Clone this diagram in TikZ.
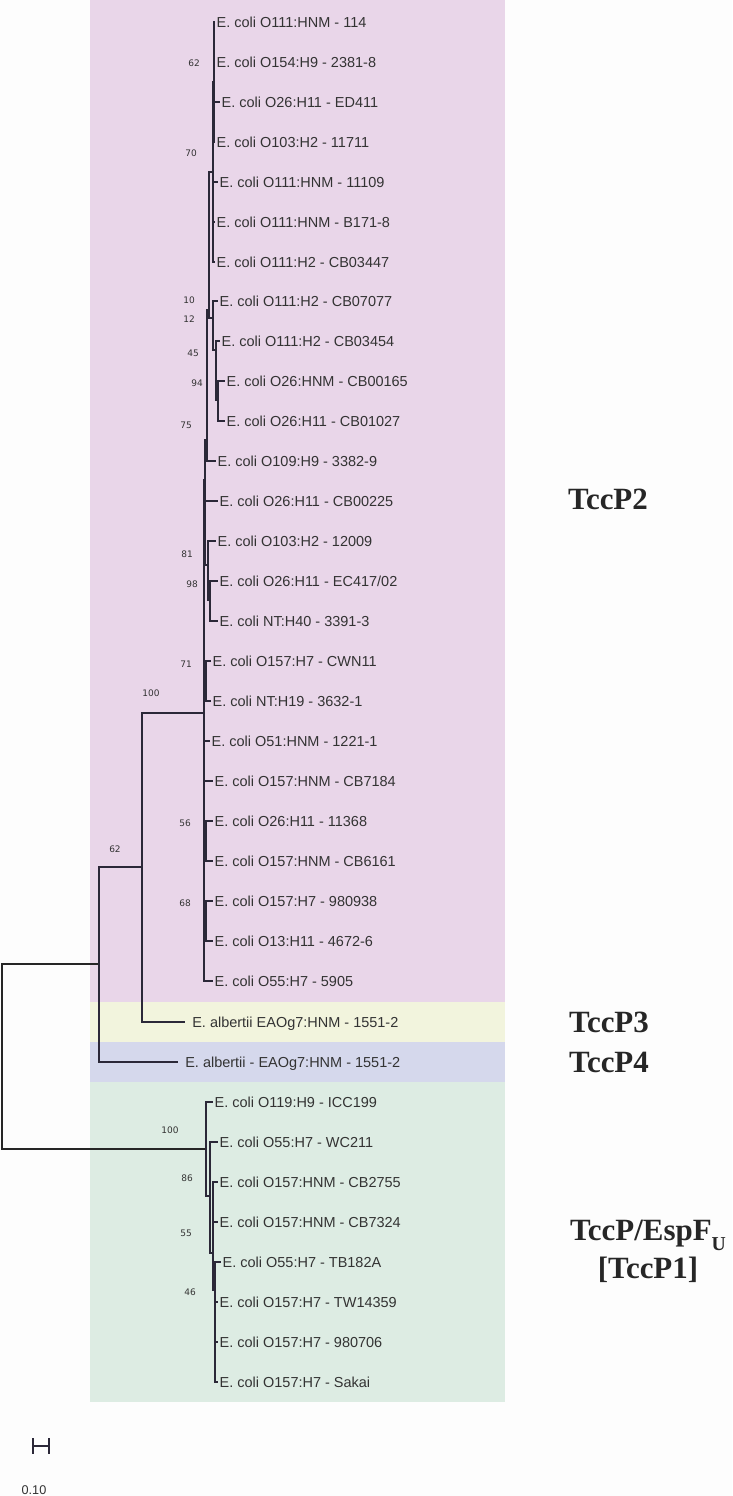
\documentclass[tikz,border=0pt]{standalone}
\usepackage{fontspec}
\setmainfont{Liberation Sans}
\newfontfamily\groupfont{Liberation Serif}
\newfontfamily\bootfont{DejaVu Sans}
\usepackage{tikz}
\usetikzlibrary{positioning}
\usepackage{xcolor}
\definecolor{pagebg}{HTML}{FDFDFD}
\definecolor{bandtwo}{HTML}{E9D6E9}
\definecolor{bandthree}{HTML}{F2F4DD}
\definecolor{bandfour}{HTML}{D5D8EC}
\definecolor{bandone}{HTML}{DDECE3}
\definecolor{branchcol}{HTML}{2B2838}
\definecolor{labelcol}{HTML}{333333}

\begin{document}
\begin{tikzpicture}[x=0.025cm, y=-0.025cm,
  leaf/.style={anchor=west, inner sep=1pt, text height=7.3pt, text depth=0pt,
    font=\fontsize{10.3}{11}\selectfont, text=labelcol},
  boot/.style={inner sep=0pt, text height=4.7pt, text depth=0pt,
    font=\bootfont\fontsize{6.4}{7}\selectfont, text=labelcol},
  grouplbl/.style={inner sep=0pt, align=center, text=black!85,
    font=\groupfont\bfseries\fontsize{22}{27}\selectfont},
  branch/.style={draw=branchcol, line width=0.9pt},
  thickbr/.style={draw=branchcol, line width=2pt},
  rootbr/.style={draw=black!85, line width=1.2pt}]

  \useasboundingbox (0,0) rectangle (732,1496);
  \fill[pagebg] (0,0) rectangle (732,1496);

  % coloured bands
  \fill[bandtwo]   (90,0)    rectangle (505,1002);
  \fill[bandthree] (90,1002) rectangle (505,1042);
  \fill[bandfour]  (90,1042) rectangle (505,1082);
  \fill[bandone]   (90,1082) rectangle (505,1402);

  % internal nodes
  \coordinate (root) at (2,1056);
  \coordinate (n62)  at (99,964);
  \coordinate (n100) at (142,867);
  \coordinate (cA)   at (204,713);
  \coordinate (c1)   at (214,82);
  \coordinate (c2)   at (213,172);
  \coordinate (c3)   at (209,310);
  \coordinate (c4)   at (213,318);
  \coordinate (c5)   at (216,350);
  \coordinate (c6)   at (218,400);
  \coordinate (c7)   at (207,440);
  \coordinate (c8)   at (205,480);
  \coordinate (c9)   at (208,565);
  \coordinate (c10)  at (210,600);
  \coordinate (c11)  at (206,681);
  \coordinate (c12)  at (206,841);
  \coordinate (c13)  at (206,921);
  \coordinate (p100) at (206,1149);
  \coordinate (q86)  at (210,1196);
  \coordinate (q55)  at (213,1253);
  \coordinate (q46)  at (215,1290);

  % TccP2 leaves
  \node[leaf] (l1)  at (215,22)  {E. coli O111:HNM - 114};
  \node[leaf] (l2)  at (215,62)  {E. coli O154:H9 - 2381-8};
  \node[leaf] (l3)  at (220,102) {E. coli O26:H11 - ED411};
  \node[leaf] (l4)  at (215,142) {E. coli O103:H2 - 11711};
  \node[leaf] (l5)  at (218,182) {E. coli O111:HNM - 11109};
  \node[leaf] (l6)  at (215,222) {E. coli O111:HNM - B171-8};
  \node[leaf] (l7)  at (215,262) {E. coli O111:H2 - CB03447};
  \node[leaf] (l8)  at (218,301) {E. coli O111:H2 - CB07077};
  \node[leaf] (l9)  at (220,341) {E. coli O111:H2 - CB03454};
  \node[leaf] (l10) at (225,381) {E. coli O26:HNM - CB00165};
  \node[leaf] (l11) at (225,421) {E. coli O26:H11 - CB01027};
  \node[leaf] (l12) at (216,461) {E. coli O109:H9 - 3382-9};
  \node[leaf] (l13) at (218,501) {E. coli O26:H11 - CB00225};
  \node[leaf] (l14) at (216,541) {E. coli O103:H2 - 12009};
  \node[leaf] (l15) at (218,581) {E. coli O26:H11 - EC417/02};
  \node[leaf] (l16) at (218,621) {E. coli NT:H40 - 3391-3};
  \node[leaf] (l17) at (211,661) {E. coli O157:H7 - CWN11};
  \node[leaf] (l18) at (211,701) {E. coli NT:H19 - 3632-1};
  \node[leaf] (l19) at (210,741) {E. coli O51:HNM - 1221-1};
  \node[leaf] (l20) at (213,781) {E. coli O157:HNM - CB7184};
  \node[leaf] (l21) at (213,821) {E. coli O26:H11 - 11368};
  \node[leaf] (l22) at (213,861) {E. coli O157:HNM - CB6161};
  \node[leaf] (l23) at (213,901) {E. coli O157:H7 - 980938};
  \node[leaf] (l24) at (213,941) {E. coli O13:H11 - 4672-6};
  \node[leaf] (l25) at (213,981) {E. coli O55:H7 - 5905};

  % TccP3 / TccP4 leaves
  \node[leaf, inner xsep=5pt] (l26) at (185,1022) {E. albertii EAOg7:HNM - 1551-2};
  \node[leaf, inner xsep=5pt] (l27) at (178,1062) {E. albertii - EAOg7:HNM - 1551-2};

  % TccP1 leaves
  \node[leaf] (l28) at (213,1102) {E. coli O119:H9 - ICC199};
  \node[leaf] (l29) at (218,1142) {E. coli O55:H7 - WC211};
  \node[leaf] (l30) at (218,1182) {E. coli O157:HNM - CB2755};
  \node[leaf] (l31) at (218,1222) {E. coli O157:HNM - CB7324};
  \node[leaf] (l32) at (221,1262) {E. coli O55:H7 - TB182A};
  \node[leaf] (l33) at (218,1302) {E. coli O157:H7 - TW14359};
  \node[leaf] (l34) at (218,1342) {E. coli O157:H7 - 980706};
  \node[leaf] (l35) at (218,1382) {E. coli O157:H7 - Sakai};

  % branches
  \draw[rootbr] (root) |- (n62) (root) |- (p100);
  \draw[branch] (n62) |- (n100) (n62) |- (l27.west);
  \draw[branch] (n100) |- (cA) (n100) |- (l26.west);
  \draw[branch] (cA) |- (c8) (cA) |- (c11) (cA) |- (l19.west) (cA) |- (l20.west)
    (cA) |- (c12) (cA) |- (c13) (cA) |- (l25.west);
  \draw[branch] (c8) |- (c7) (c8) |- (l13.west) (c8) |- (c9);
  \draw[branch] (c7) |- (c3) (c7) |- (l12.west);
  \draw[branch] (c3) |- (c2) (c3) |- (c4);
  \draw[branch] (c2) |- (c1) (c2) |- (l5.west) (c2) |- (l6.west) (c2) |- (l7.west);
  \draw[branch] (c1) |- (l1.west) (c1) |- (l2.west) (c1) |- (l3.west) (c1) |- (l4.west);
  \draw[branch] (c4) |- (l8.west) (c4) |- (c5);
  \draw[branch] (c5) |- (l9.west) (c5) |- (c6);
  \draw[branch] (c6) |- (l10.west) (c6) |- (l11.west);
  \draw[branch] (c9) |- (l14.west) (c9) |- (c10);
  \draw[branch] (c10) |- (l15.west) (c10) |- (l16.west);
  \draw[branch] (c11) |- (l17.west) (c11) |- (l18.west);
  \draw[branch] (c12) |- (l21.west) (c12) |- (l22.west);
  \draw[branch] (c13) |- (l23.west) (c13) |- (l24.west);
  \draw[branch] (p100) |- (l28.west) (p100) |- (q86);
  \draw[branch] (q86) |- (l29.west) (q86) |- (q55);
  \draw[branch] (q55) |- (l30.west) (q55) |- (l31.west) (q55) |- (q46);
  \draw[branch] (q46) |- (l32.west) (q46) |- (l33.west) (q46) |- (l34.west) (q46) |- (l35.west);

  % short overlapping branches
  \draw[thickbr] (c1 |- l2.west) -- (c1 |- l4.west);
  \draw[thickbr] (c7 |- c4) -- (c7 |- l12.west);
  \draw[thickbr] (c6 |- l10.west) -- (c6 |- l11.west);
  \draw[thickbr] (c10 |- l15.west) -- (c10);
  \draw[thickbr] (c11 |- l17.west) -- (c11 |- l18.west);
  \draw[thickbr] (q46 |- l32.west) -- (q46 |- l33.west);

  % bootstrap values
  \node[boot] (b1)  at (194,63)   {62};
  \node[boot] (b2)  at (191,153)  {70};
  \node[boot] (b3)  at (189,300)  {10};
  \node[boot] (b4)  at (189,319)  {12};
  \node[boot] (b5)  at (193,353)  {45};
  \node[boot] (b6)  at (197,383)  {94};
  \node[boot] (b7)  at (186,425)  {75};
  \node[boot] (b8)  at (187,554)  {81};
  \node[boot] (b9)  at (192,584)  {98};
  \node[boot] (b10) at (186,664)  {71};
  \node[boot] (b11) at (151,693)  {100};
  \node[boot] (b12) at (185,823)  {56};
  \node[boot] (b13) at (115,849)  {62};
  \node[boot] (b14) at (185,903)  {68};
  \node[boot] (b15) at (170,1130) {100};
  \node[boot] (b16) at (187,1178) {86};
  \node[boot] (b17) at (186,1233) {55};
  \node[boot] (b18) at (190,1292) {46};

  % group names
  \node[grouplbl] (gTwo)   at (608,499)  {TccP2};
  \node[grouplbl] (gThree) at (609,1022) {TccP3};
  \node[grouplbl] (gFour)  at (609,1062) {TccP4};
  \node[grouplbl] (gOne)   at (648,1251)
    {TccP/EspF\raisebox{-0.35em}{\fontsize{14}{14}\selectfont U}\\[0pt][TccP1]};

  % scale bar
  \coordinate (sbl) at (33,1446);
  \coordinate (sbr) at (49,1446);
  \draw[branchcol, line width=0.8pt] (sbl) -- (sbr);
  \draw[branchcol, line width=0.8pt] (sbl) ++(0,-8) -- ++(0,16);
  \draw[branchcol, line width=0.8pt] (sbr) ++(0,-8) -- ++(0,16);
  \node[inner sep=0pt, font=\fontsize{9}{10}\selectfont, text=labelcol] (sblbl) at (34,1490) {0.10};
\end{tikzpicture}
\end{document}
